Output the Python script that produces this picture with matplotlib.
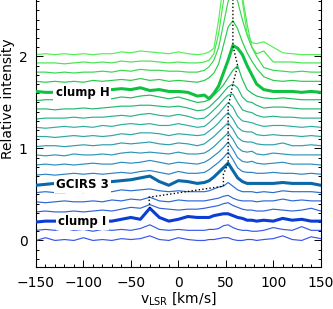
import numpy as np
import matplotlib
matplotlib.use("Agg")
import matplotlib.pyplot as plt
from matplotlib.colors import LinearSegmentedColormap
from matplotlib.ticker import MultipleLocator

# ── Data ─────────────────────────────────────────────────────────────────────
# velocity channels (km/s)
velocity = [-150, -140, -130, -120, -110, -100, -90, -80, -70, -60, -50, -40,
            -30, -20, -10, 0, 10, 20, 27.5, 32.5, 37.5, 42.5, 47.5, 52.5,
            57.5, 62.5, 67.5, 72.5, 77.5, 82.5, 90, 100, 110, 120, 130, 140, 150]

# spectra, in units of 0.01 above each spectrum's own baseline, bottom to top
sp00 = [0, 3, 0, 1, 0, 3, 0, 1, 0, 2, 1, 2, 5, 1, 0, 3, 1, 0, 0, 1, 1, 2, 3, 3, 1, 0, 0, 1, 1, 0, 1, 2, 5, 1, 0, 4, 2]
sp01 = [1, 2, 1, 3, 1, 2, 0, 2, 1, 2, 1, 3, 7, 2, 1, 2, 1, 1, 1, 2, 2, 3, 6, 7, 4, 2, 1, 1, 0, 0, 1, 4, 2, 1, 5, 1, 1]
sp02 = [0, 1, 1, 1, 1, 1, 1, 1, 1, 3, 5, 3, 15, 5, 1, 3, 6, 5, 5, 5, 7, 8, 9, 9, 7, 5, 4, 2, 2, 1, 2, 1, 4, 2, 3, 1, 1]
sp03 = [1, 2, 1, 1, 2, 1, 2, 3, 2, 4, 6, 5, 9, 5, 4, 3, 4, 4, 5, 6, 7, 8, 10, 11, 8, 6, 4, 3, 3, 2, 2, 4, 3, 2, 3, 5, 2]
sp04 = [2, 1, 2, 3, 2, 2, 3, 2, 4, 3, 5, 4, 7, 3, 2, 4, 3, 3, 3, 4, 5, 6, 8, 9, 6, 4, 3, 3, 3, 2, 3, 3, 5, 3, 4, 3, 3]
sp05 = [2, 3, 2, 2, 3, 2, 4, 3, 3, 5, 4, 5, 6, 4, 3, 4, 3, 3, 3, 4, 6, 8, 9, 13, 9, 5, 3, 3, 3, 2, 3, 2, 4, 3, 3, 3, 2]
sp06 = [0, 1, 2, 2, 2, 2, 2, 3, 4, 5, 6, 8, 10, 4, 0, 5, 4, 2, 3, 5, 9, 14, 19, 24, 16, 8, 4, 2, 2, 2, 2, 2, 3, 2, 2, 2, 0]
sp07 = [1, 2, 1, 2, 3, 2, 3, 2, 3, 4, 3, 5, 6, 4, 2, 5, 3, 3, 4, 7, 11, 15, 20, 26, 18, 9, 5, 4, 4, 3, 3, 4, 3, 3, 2, 3, 2]
sp08 = [2, 3, 2, 3, 2, 3, 4, 3, 3, 5, 4, 5, 7, 5, 3, 5, 4, 3, 5, 8, 12, 16, 21, 27, 19, 10, 6, 5, 6, 4, 3, 4, 5, 3, 3, 3, 2]
sp09 = [3, 2, 3, 2, 4, 3, 3, 4, 3, 5, 6, 5, 6, 5, 4, 6, 4, 4, 5, 8, 12, 17, 22, 27, 20, 11, 7, 6, 7, 4, 3, 5, 4, 3, 3, 3, 3]
sp10 = [2, 3, 3, 2, 3, 4, 3, 4, 4, 6, 5, 6, 7, 5, 4, 6, 5, 3, 5, 9, 13, 18, 23, 28, 21, 12, 8, 7, 7, 5, 4, 4, 6, 3, 3, 4, 3]
sp11 = [3, 3, 2, 3, 4, 3, 4, 3, 4, 6, 5, 7, 7, 6, 4, 6, 5, 4, 5, 9, 13, 18, 24, 29, 22, 13, 9, 8, 8, 5, 4, 5, 4, 4, 3, 4, 3]
sp12 = [3, 2, 3, 4, 3, 4, 3, 5, 4, 6, 7, 6, 7, 5, 5, 7, 5, 3, 4, 8, 13, 18, 24, 30, 25, 15, 10, 9, 8, 6, 4, 5, 5, 4, 3, 4, 3]
sp13 = [2, 3, 3, 3, 4, 3, 4, 4, 5, 6, 5, 7, 8, 6, 5, 7, 5, 2, 3, 7, 12, 17, 23, 28, 29, 20, 12, 10, 9, 6, 4, 5, 4, 4, 3, 3, 3]
sp14 = [3, 3, 2, 3, 3, 4, 3, 4, 5, 6, 6, 7, 7, 6, 5, 6, 4, 1, 2, 5, 10, 15, 21, 27, 30, 26, 16, 11, 10, 7, 4, 5, 5, 4, 3, 3, 3]
sp15 = [2, 3, 3, 3, 4, 3, 4, 4, 4, 6, 5, 7, 8, 6, 4, 6, 3, 0, 1, 3, 8, 13, 19, 27, 35, 40, 25, 14, 10, 7, 5, 4, 5, 4, 3, 3, 3]
sp16 = [2, 1, 1, 2, 3, 2, 3, 4, 4, 5, 4, 6, 3, 4, 2, 2, 1, -3, -2, -6, 0, 8, 22, 36, 52, 49, 42, 30, 20, 10, 4, 2, 2, 2, 1, 2, 1]
sp17 = [3, 2, 3, 2, 3, 2, 4, 3, 4, 5, 4, 6, 4, 5, 3, 4, 3, 2, 4, 7, 12, 22, 42, 62, 69, 60, 46, 34, 25, 17, 8, 4, 3, 4, 3, 3, 3]
sp18 = [3, 3, 2, 3, 2, 3, 3, 4, 3, 5, 4, 6, 5, 5, 4, 4, 3, 3, 5, 9, 16, 30, 55, 80, 92, 80, 60, 43, 30, 20, 8, 5, 4, 3, 4, 3, 3]
sp19 = [3, 3, 3, 2, 3, 4, 3, 4, 3, 5, 4, 5, 5, 4, 3, 4, 3, 3, 4, 6, 13, 35, 70, 100, 110, 100, 75, 45, 20, 13, 16, 4, 4, 4, 3, 3, 3]
sp20 = [2, 3, 2, 3, 2, 3, 2, 3, 3, 5, 4, 6, 5, 4, 3, 5, 3, 2, 3, 5, 9, 40, 80, 110, 125, 110, 60, 25, 15, 14, 16, 10, 4, 3, 2, 2, 2]

spectra = [sp00, sp01, sp02, sp03, sp04, sp05, sp06, sp07, sp08, sp09, sp10,
           sp11, sp12, sp13, sp14, sp15, sp16, sp17, sp18, sp19, sp20]
offsets = [0.1 * i for i in range(len(spectra))]

# highlighted spectra and their labels
labelled = {2: "clump I", 6: "GCIRS 3", 16: "clump H"}

# dotted track of the peak velocity
track_v = [-30, -31, 47.5, 47.5, 52.5, 52.5, 57.5, 62.5, 57.5, 57.5]
track_y = [0.35, 0.47, 0.59, 0.72, 0.84, 1.45, 1.70, 1.90, 2.12, 2.80]

# ── Plot ─────────────────────────────────────────────────────────────────────
cmap = LinearSegmentedColormap.from_list(
    "bluegreen",
    [(0.0, "#3a55ec"), (0.25, "#2a6cd0"), (0.45, "#2c96b4"), (0.6, "#30ae9c"),
     (0.8, "#18c048"), (1.0, "#55ee55")])
thick_colors = {2: "#0a3cd6", 6: "#0a68a8", 16: "#10c040"}

fig = plt.figure(figsize=(3.33, 3.09), dpi=100)
ax = fig.add_axes([0.108, 0.137, 0.855, 0.863])

n = len(spectra)
for i, (sp, off) in enumerate(zip(spectra, offsets)):
    y = off + np.array(sp) / 100.0
    if i in labelled:
        ax.plot(velocity, y, color=thick_colors[i], lw=2.2, zorder=3)
        ax.text(-101, off + 0.01, labelled[i], ha="center", va="center",
                fontsize=8.5, fontweight="bold", zorder=5,
                bbox=dict(facecolor="white", edgecolor="none", pad=1.5))
    else:
        ax.plot(velocity, y, color=cmap(i / (n - 1)), lw=0.85, zorder=2)

ax.plot(track_v, track_y, color="black", ls=(0, (1, 1.6)), lw=1.0, zorder=4)

ax.set_xlim(-150, 150)
ax.set_ylim(-0.285, 2.614)
ax.xaxis.set_major_locator(MultipleLocator(50))
ax.xaxis.set_minor_locator(MultipleLocator(10))
ax.yaxis.set_major_locator(MultipleLocator(1))
ax.yaxis.set_minor_locator(MultipleLocator(0.1))
ax.tick_params(which="both", direction="in", right=True, top=False,
               labelsize=10, width=0.7)
ax.tick_params(which="major", length=5)
ax.tick_params(which="minor", length=2.5)
ax.tick_params(axis="x", pad=7)
ax.tick_params(axis="y", pad=6)
ax.spines["top"].set_visible(False)
for s in ("left", "right", "bottom"):
    ax.spines[s].set_linewidth(0.8)

ax.set_xlabel(r"v$_{\rm LSR}$ [km/s]", fontsize=10, labelpad=0)
ax.set_ylabel("Relative intensity", fontsize=10)
ax.yaxis.set_label_coords(-0.072, 0.63)

fig.savefig("out.png", dpi=100)
